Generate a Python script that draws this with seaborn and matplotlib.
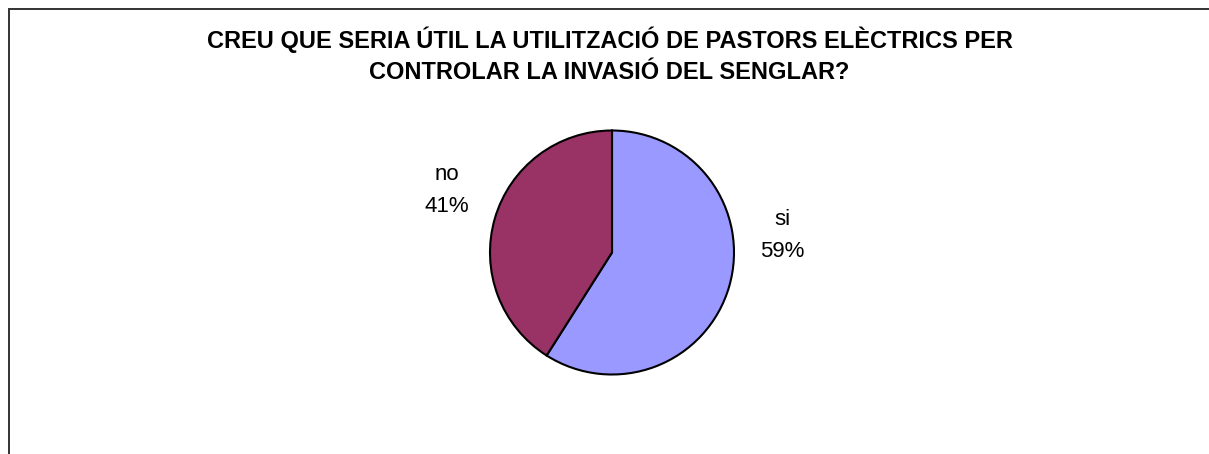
import matplotlib
matplotlib.use("Agg")
import matplotlib.pyplot as plt
import seaborn as sns
from matplotlib.patches import Rectangle

categories = ["si", "no"]
shares = [59, 41]
colors = ["#9999FF", "#993366"]
title = "CREU QUE SERIA ÚTIL LA UTILITZACIÓ DE PASTORS ELÈCTRICS PER\nCONTROLAR LA INVASIÓ DEL SENGLAR?"

sns.set_theme(style="white")
plt.rcParams['font.family'] = ['Liberation Sans', 'DejaVu Sans']

W, H = 1209, 454
fig = plt.figure(figsize=(W / 100, H / 100), dpi=100)
ax = fig.add_axes([0, 0, 1, 1])

# outer chart frame (only top and left edges fall inside the image)
ax.add_patch(Rectangle((8.5, -20), 1240, H - 8.5 + 20, fill=False,
                       edgecolor='#333333', linewidth=1.4, clip_on=False))

cx, cy, r = 612, 201.5, 122
wedges, _ = ax.pie(shares, colors=colors, startangle=90, counterclock=False,
                   center=(cx, cy), radius=r, frame=True,
                   wedgeprops=dict(edgecolor='black', linewidth=1.5))
ax.set_xlim(0, W)
ax.set_ylim(0, H)
ax.set_aspect('equal')
ax.axis('off')

label_offsets = {"si": (170, 17), "no": (-165, 62)}
for cat, val in zip(categories, shares):
    dx, dy = label_offsets[cat]
    ax.text(cx + dx, cy + dy, f"{cat}\n{val}%", ha='center', va='center',
            fontsize=16, linespacing=1.65, color='black')

ax.text(W / 2 + 5, H - 55, title, ha='center', va='center', fontsize=17,
        fontweight='bold', linespacing=1.42, color='black')

fig.savefig("out.png", dpi=100, facecolor='white')
